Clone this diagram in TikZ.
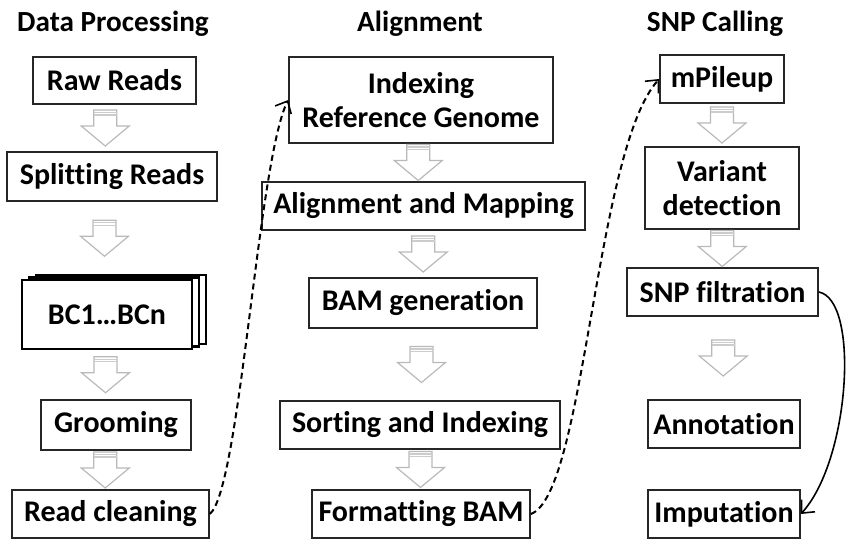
\documentclass[tikz,border=0pt]{standalone}
\usepackage{fontspec}
\setmainfont{Carlito}[Ligatures=NoCommon]
\usetikzlibrary{arrows.meta,shadows,calc}

\begin{document}
\begin{tikzpicture}[x=0.5pt, y=-0.5pt, text=black,
    >={Straight Barb[length=5pt,width=9pt,line width=0.8pt]},
    stepbox/.style={draw=black!85, line width=0.8pt, fill=white,
      inner sep=0pt, align=center,
      font=\bfseries\fontsize{15}{17}\selectfont},
    stagetitle/.style={font=\bfseries\fontsize{14.6}{17}\selectfont},
    jump/.style={->, line width=1pt, dash pattern=on 3pt off 2pt},
    pics/flowarrow/.style={code={
      \draw [gray!55, line width=0.6pt, fill=white]
        (-11.5,-18) -- (11.5,-18) -- (11.5,-2) -- (24,-2) -- (0,18)
        -- (-24,-2) -- (-11.5,-2) -- cycle;
      \draw [gray!40, line width=0.6pt]
        (-11.5,-15.5) -- (11.5,-15.5) (-11.5,-13) -- (11.5,-13);
    }}]
\useasboundingbox (0,0) rectangle (846,540);

% stage titles
\path (113,24) node (dptitle) [stagetitle] {Data Processing};
\path (420,24) node (altitle) [stagetitle] {Alignment};
\path (715,24) node (sntitle) [stagetitle] {SNP Calling};

% data processing
\path (114.5,80.5) node (raw) [stepbox, minimum width=81.5pt,
    minimum height=23.5pt] {Raw Reads};
\path (112,176.5) node (split) [stepbox, minimum width=105pt,
    minimum height=24.5pt] {Splitting Reads};
\path (107,314.5) node (bc) [stepbox, line width=1.3pt, draw=black,
    minimum width=85pt, minimum height=34.5pt,
    double copy shadow={shadow xshift=3.5pt, shadow yshift=1.25pt,
      draw=black, line width=1.3pt}] {BC1…BCn};
\path (116,425) node (groom) [stepbox, minimum width=75pt,
    minimum height=25pt] {Grooming};
\path (110.5,514) node (clean) [stepbox, minimum width=98.5pt,
    minimum height=24pt] {Read cleaning};

% alignment
\path (421,100) node (index) [stepbox, minimum width=132pt,
    minimum height=43pt] {Indexing\\Reference Genome};
\path (423.5,206) node (map) [stepbox, minimum width=161.5pt,
    minimum height=24pt] {Alignment and Mapping};
\path (423,303) node (bamgen) [stepbox, minimum width=114pt,
    minimum height=25pt] {BAM generation};
\path (420,425) node (sortidx) [stepbox, minimum width=140pt,
    minimum height=24pt] {Sorting and Indexing};
\path (421,514) node (fmtbam) [stepbox, minimum width=109pt,
    minimum height=24pt] {Formatting BAM};

% snp calling
\path (722,79) node (pileup) [stepbox, minimum width=62pt,
    minimum height=24pt] {mPileup};
\path (722,188) node (detect) [stepbox, minimum width=77pt,
    minimum height=41pt] {Variant\\detection};
\path (722.5,292) node (filt) [stepbox, minimum width=95.5pt,
    minimum height=24pt] {SNP filtration};
\path (724,424) node (annot) [stepbox, minimum width=76pt,
    minimum height=24pt] {Annotation};
\path (724,514) node (imput) [stepbox, minimum width=76pt,
    minimum height=24pt] {Imputation};

% block arrows
\pic at ($(raw.south)!0.5!(split.north)+(-8,0)$) {flowarrow};
\pic at ($(split.south)!0.5!(bc.north)+(-5,-2)$) {flowarrow};
\pic at ($(bc.south)!0.5!(groom.north)+(-6,0)$) {flowarrow};
\pic at ($(groom.south)!0.5!(clean.north)+(-8,0)$) {flowarrow};

\pic at ($(index.south)!0.5!(map.north)+(-4,0)$) {flowarrow};
\pic at ($(map.south)!0.5!(bamgen.north)$) {flowarrow};
\pic at ($(bamgen.south)!0.5!(sortidx.north)$) {flowarrow};
\pic at ($(sortidx.south)!0.5!(fmtbam.north)$) {flowarrow};

\pic at ($(pileup.south)!0.5!(detect.north)$) {flowarrow};
\pic at ($(detect.south)!0.5!(filt.north)$) {flowarrow};
\pic at ($(filt.south)!0.5!(annot.north)$) {flowarrow};

% links between stages
\draw [jump] (clean.east) .. controls (240,490) and (258,160) .. (index.west);
\draw [jump] (fmtbam.east) .. controls (585,495) and (595,150) .. (pileup.west);
\draw [->, line width=0.8pt]
  (filt.east) .. controls (860,300) and (850,460) .. (imput.east);

\end{tikzpicture}
\end{document}
